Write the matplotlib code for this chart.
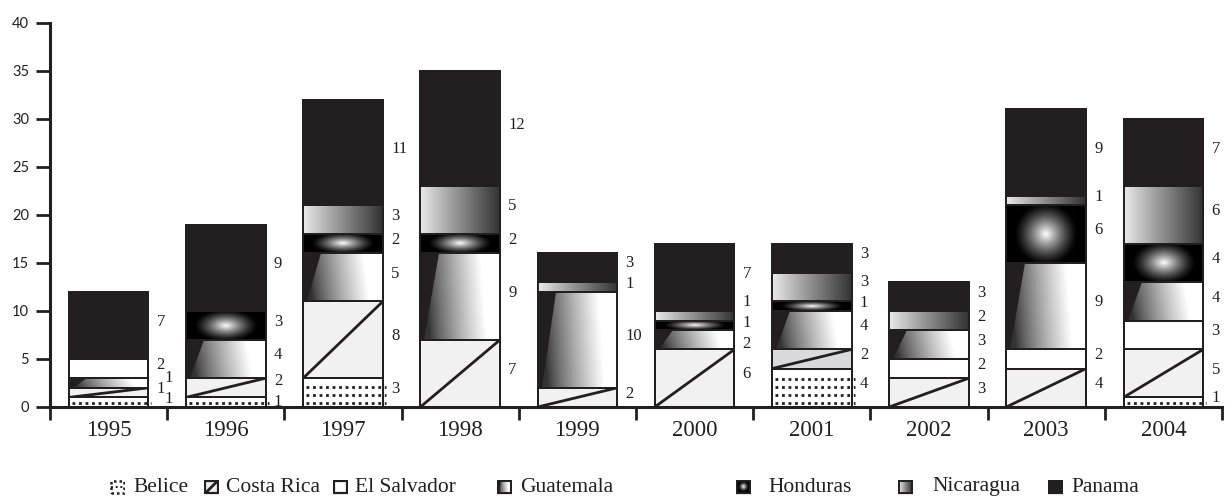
import numpy as np
import matplotlib
matplotlib.use("Agg")
import matplotlib.pyplot as plt
from matplotlib.patches import Rectangle, Polygon

# ---- data -------------------------------------------------------------
years = [1995, 1996, 1997, 1998, 1999, 2000, 2001, 2002, 2003, 2004]
series_names = ["Belice", "Costa Rica", "El Salvador", "Guatemala",
                "Honduras", "Nicaragua", "Panama"]
belice      = [1, 1, 3, 0, 0, 0, 4, 0, 0, 1]
costa_rica  = [1, 2, 8, 7, 2, 6, 2, 3, 4, 5]
el_salvador = [2, 0, 0, 0, 0, 0, 0, 2, 2, 3]
guatemala   = [1, 4, 5, 9, 10, 2, 4, 3, 9, 4]
honduras    = [0, 3, 2, 2, 0, 1, 1, 0, 6, 4]
nicaragua   = [0, 0, 3, 5, 1, 1, 3, 2, 1, 6]
panama      = [7, 9, 11, 12, 3, 7, 3, 3, 9, 7]
values = [belice, costa_rica, el_salvador, guatemala, honduras, nicaragua, panama]

# stacking order (index into series_names); 1995 has Guatemala under El Salvador
default_order = [0, 1, 2, 3, 4, 5, 6]
order_by_year = {1995: [0, 1, 3, 2, 4, 5, 6]}

# ---- style ------------------------------------------------------------
INK = "#231f20"
SERIF = ["Liberation Serif", "DejaVu Serif"]
SANS = ["Lato", "DejaVu Sans"]
CR_FILL = "#f0f1f0"
CR_FILL_ALT = {2001: "#d9dadb"}
EDGE_LW = 1.4
LABEL_GAP = 2.2              # minimum spacing of value labels (y units)
LABEL_GAP_BY_YEAR = {1995: 1.1}

W, H = 1227, 500
fig = plt.figure(figsize=(W / 100, H / 100), dpi=100)
ax = fig.add_axes([50 / W, 1 - 407 / H, (1222 - 50) / W, (407 - 23) / H])
ax.set_xlim(-0.5, len(years) - 0.5)
ax.set_ylim(0, 40)
PX_PER_UNIT = (407 - 23) / 40.0
PX_PER_SLOT = (1222 - 50) / len(years)
BAR_W = 0.68

base_colors = {
    "Belice": "white",
    "Costa Rica": CR_FILL,
    "El Salvador": "white",
    "Guatemala": INK,
    "Honduras": INK,
    "Nicaragua": INK,
    "Panama": INK,
}


def shade(target, arr, extent, clip, z):
    im = target.imshow(arr, extent=extent, origin="lower", cmap="gray",
                       vmin=0, vmax=1, aspect="auto",
                       interpolation="bilinear", zorder=z)
    im.set_clip_path(clip)
    return im


def paint(target, rect, name, px_w, px_h, dot_rows=True):
    """Fill a rectangle patch with the pattern of a country."""
    x0, y0 = rect.get_xy()
    w, h = rect.get_width(), rect.get_height()
    x1, y1 = x0 + w, y0 + h
    n = 160
    u = np.linspace(0, 1, n)
    U, V = np.meshgrid(u, u)
    z = rect.get_zorder() + 0.5
    if name == "Belice" and dot_rows:
        step = 8.0 * h / px_h
        y = y0 + 4.0 * h / px_h
        while y < y1 - 2.5 * h / px_h:
            target.plot([x0 + 3 * w / px_w, x1 + 3 * w / px_w], [y, y],
                        color=INK, lw=2.0, ls=(0, (1, 1.35)), zorder=z)
            y += step
    elif name == "Costa Rica":
        ln, = target.plot([x0, x1], [y0, y1], color=INK, lw=2.0, zorder=z)
        ln.set_clip_path(rect)
    elif name == "Guatemala":
        poly = Polygon([(x0 + 0.23 * w, y1), (x1, y1), (x1, y0),
                        (x0 + 0.05 * w, y0)], closed=True,
                       transform=target.transData)
        g = np.clip((U - 0.08) / 0.72 + 0.12 * (V - 0.5), 0, 1)
        arr = 0.2 + 0.8 * g ** 0.8
        shade(target, arr, (x0, x1, y0, y1), poly, z)
    elif name == "Honduras":
        rx = 0.4 * px_w
        ry = min(0.55 * px_h, rx)
        dx = (U - 0.5) * px_w / rx
        dy = (V - 0.5) * px_h / ry
        r = np.sqrt(dx ** 2 + dy ** 2)
        arr = np.clip(1 - r, 0, 1) ** 1.3
        shade(target, arr, (x0, x1, y0, y1), rect, z)
    elif name == "Nicaragua":
        arr = 0.92 - 0.72 * U ** 0.95
        shade(target, arr, (x0, x1, y0, y1), rect, z)
    # crisp outline on top
    target.add_patch(Rectangle((x0, y0), w, h, fill=False, ec=INK,
                               lw=EDGE_LW, zorder=z + 0.5))


def _start(grp, gap, floor):
    mean = sum(grp) / len(grp)
    return max(mean - gap * (len(grp) - 1) / 2, floor)


def spread(targets, gap, floor):
    """1-D label placement: keep labels at least `gap` apart, centred
    on their wanted positions where they have to move."""
    groups = [[t] for t in targets]
    changed = True
    while changed:
        changed = False
        placed = []
        for grp in groups:
            if placed:
                prev = placed[-1]
                prev_top = _start(prev, gap, floor) + gap * (len(prev) - 1)
                if _start(grp, gap, floor) < prev_top + gap - 1e-9:
                    placed[-1] = prev + grp
                    changed = True
                    continue
            placed.append(grp)
        groups = placed
    out = []
    for grp in groups:
        s = _start(grp, gap, floor)
        out += [s + gap * j for j in range(len(grp))]
    return out


# ---- bars ---------------------------------------------------------------
px_w = BAR_W * PX_PER_SLOT
for i, yr in enumerate(years):
    bottom = 0
    mids, texts = [], []
    for k in order_by_year.get(yr, default_order):
        v = values[k][i]
        if v == 0:
            continue
        name = series_names[k]
        face = base_colors[name]
        if name == "Costa Rica":
            face = CR_FILL_ALT.get(yr, CR_FILL)
        rect = ax.bar(i, v, width=BAR_W, bottom=bottom, color=face,
                      edgecolor=INK, linewidth=EDGE_LW, zorder=2)[0]
        paint(ax, rect, name, px_w, v * PX_PER_UNIT)
        mids.append(bottom + v / 2 + 0.4)
        texts.append(str(v))
        bottom += v
    ys = spread(mids, LABEL_GAP_BY_YEAR.get(yr, LABEL_GAP), 0.45)
    shift = 0
    for j, (yv, t) in enumerate(zip(ys, texts)):
        crowded = (j > 0 and yv - ys[j - 1] < 1.9) or \
                  (j + 1 < len(ys) and ys[j + 1] - yv < 1.9)
        shift = (0.07 if shift == 0 else 0) if crowded else 0
        ax.text(i + 0.41 + shift, yv, t, ha="left", va="center",
                fontsize=12, family=SERIF, color=INK, zorder=6)

ax.set_xlim(-0.5, len(years) - 0.5)
ax.set_ylim(0, 40)

# ---- axes ---------------------------------------------------------------
for s in ("top", "right"):
    ax.spines[s].set_visible(False)
for s in ("left", "bottom"):
    ax.spines[s].set_linewidth(2.2)
    ax.spines[s].set_color(INK)

ax.set_yticks(np.arange(0, 41, 5))
ax.tick_params(axis="y", length=10, width=2, color=INK, pad=5,
               labelsize=10.5, labelcolor=INK)
for lab in ax.get_yticklabels():
    lab.set_family(SANS)

ax.set_xticks(range(len(years)))
ax.set_xticklabels([str(y) for y in years])
ax.set_xticks(np.arange(-0.5, len(years), 1.0), minor=True)
ax.tick_params(axis="x", which="major", length=0, pad=9, labelsize=16.5,
               labelcolor=INK)
ax.tick_params(axis="x", which="minor", length=9, width=2, color=INK)
for lab in ax.get_xticklabels():
    lab.set_family(SERIF)

# ---- legend -------------------------------------------------------------
icon_px = 15
icon_left = [110, 204, 333, 497, 736, 898, 1048]
text_left = [133, 226, 355, 520, 768, 932, 1071]
legend_y = 487
for name, xi, xt in zip(series_names, icon_left, text_left):
    lax = fig.add_axes([xi / W, 1 - (legend_y + icon_px / 2) / H,
                        icon_px / W, icon_px / H])
    lax.set_xlim(-0.08, 1.08)
    lax.set_ylim(-0.08, 1.08)
    lax.axis("off")
    face = base_colors[name]
    rect = lax.bar(0.5, 1, width=1, bottom=0, color=face,
                   edgecolor=INK, linewidth=1.6, zorder=2)[0]
    if name == "Belice":
        rect.set_linestyle((0, (1, 1.2)))
        rect.set_linewidth(1.8)
        lax.plot([0.0, 1.0], [0.5, 0.5], color=INK, lw=1.4,
                 ls=(0, (1, 1.4)), zorder=3)
    else:
        paint(lax, rect, name, icon_px, icon_px, dot_rows=False)
    fig.text(xt / W, 1 - legend_y / H, name, ha="left", va="center",
             fontsize=15.5, family=SERIF, color=INK)

fig.savefig("out.png", dpi=100)
